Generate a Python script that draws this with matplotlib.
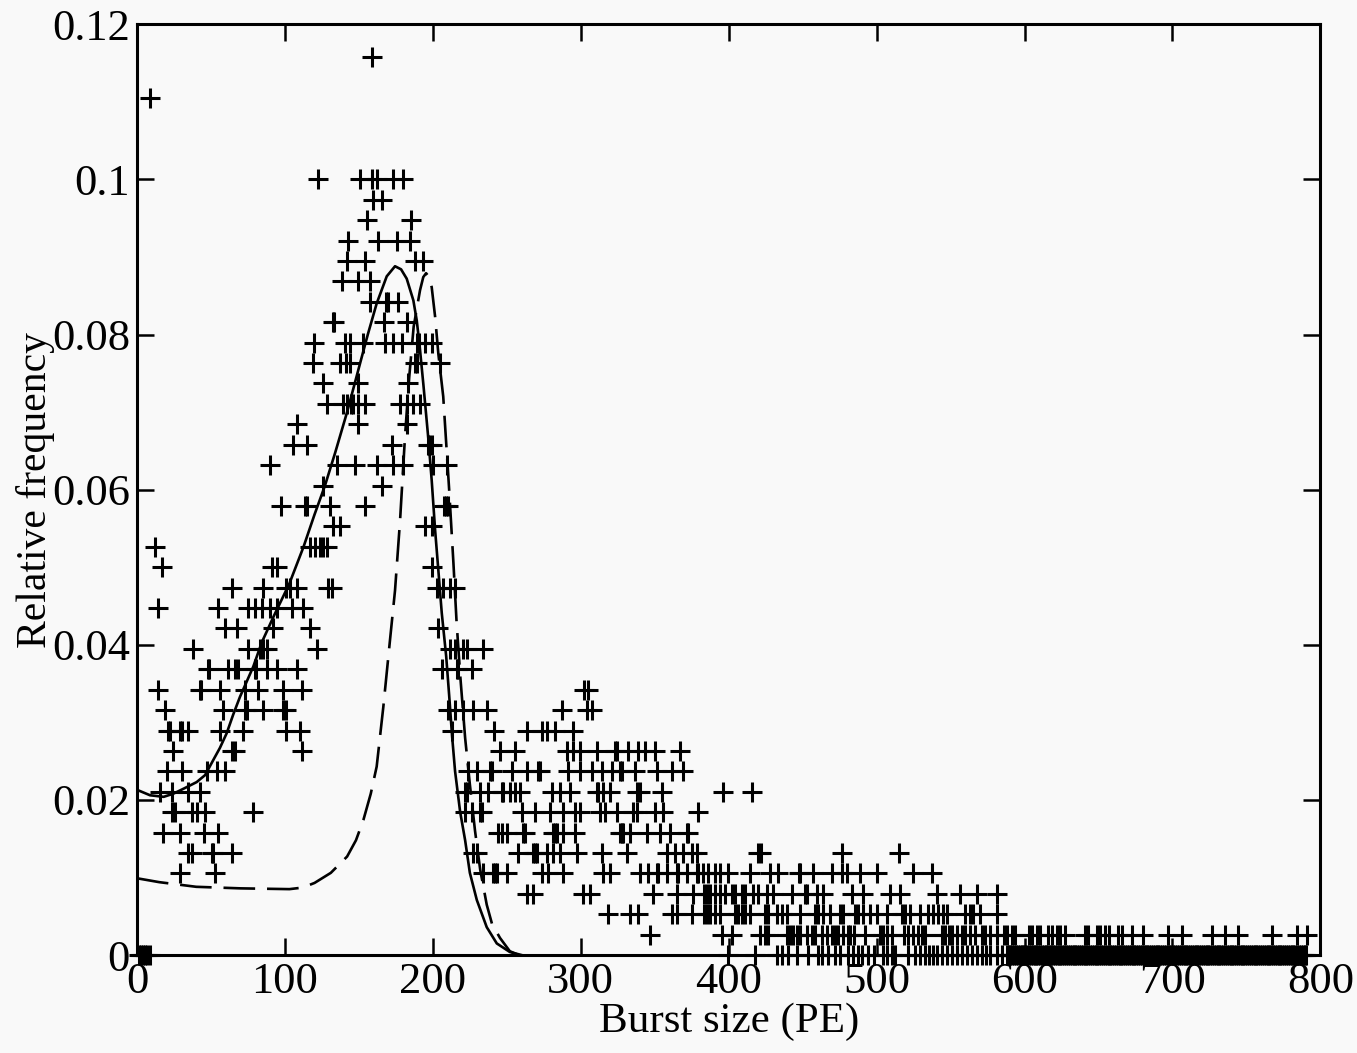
import matplotlib.pyplot as plt

# relative frequency = count / N_BURSTS
N_BURSTS = 380

# count level of each row of points, and the burst sizes (PE) in that row
count_levels = [44, 42, 38, 37, 36, 35, 34, 33, 32, 31, 30, 29, 28, 27, 26, 25, 24,
                23, 22, 21, 20, 19, 18, 17, 16, 15, 14, 13, 12, 11, 10, 9, 8, 7, 6,
                5, 4, 3, 2, 1, 0]
burst_rows = [
    [158.7],
    [8.8],
    [122, 151, 159, 162, 173, 180],
    [159.8, 165.4],
    [155.7, 185.3],
    [142.9, 163.2, 175.6, 184.6],
    [142.2, 154.2, 188, 193.6],
    [138.4, 149.6, 157.5],
    [157.5, 168.3, 169.7, 176.7],
    [132.2, 133.2, 167, 182.3],
    [119.7, 140.6, 144, 153, 167.7, 173.3, 179, 189.5, 190.8, 194.7, 199.2],
    [118.8, 137, 141.3, 144, 188, 189, 205],
    [126, 149.6, 183],
    [128.3, 139, 141.8, 144.5, 145.8, 149.6, 154.2, 177.8, 182.3, 186.8, 191.3],
    [108, 149.6, 182.3],
    [105.3, 114.7, 172.2, 196.5, 197.5, 199.2],
    [90, 135, 147.4, 162, 173.3, 180, 200.3, 209.4],
    [125.5, 165.4],
    [97.4, 113.6, 114.7, 130.5, 154.2, 207.5, 209, 210.3],
    [132.7, 137.3, 194.7, 199.2],
    [12.2, 117, 120.4, 123.7, 126, 128.3],
    [17.1, 91, 94.5, 199.2],
    [64, 85.4, 101, 103.4, 108, 129.3, 131.5, 202.6, 207, 211.6, 215],
    [14.4, 55, 75.3, 79.8, 84.3, 90, 94.5, 104.6, 112.4],
    [59.5, 67.4, 92, 117, 203.7],
    [38, 75.3, 83.2, 85.4, 87.7, 121.5, 211.6, 215, 220.6, 222.8, 234],
    [48.2, 48.8, 61.7, 66.3, 68.5, 79.8, 80.5, 87.7, 94.5, 108, 206, 216, 217.3,
     226.3],
    [14.4, 42.6, 43.2, 56, 73, 82, 99, 111.3, 302.5, 305],
    [19, 58.4, 73, 74.2, 85.4, 99, 101, 210.5, 215, 220.6, 227.4, 236.4, 287, 304,
     307.4],
    [21.2, 22, 29, 30.2, 34.7, 56, 71.9, 101, 110, 212.7, 241, 263.5, 273.6, 277,
     282.6, 295],
    [24.5, 64, 66.3, 111.3, 245.4, 255.6, 290.5, 295, 299.5, 310.8, 323.2, 324.3,
     332.2, 339, 343.5, 350.2, 367],
    [20, 30.2, 47, 53.9, 59.5, 224, 229.7, 238.7, 239.8, 253.3, 263.5, 271.3, 272.5,
     291.6, 299.5, 307.4, 314.2, 320.9, 326.6, 327.7, 336.7, 351.4, 361.5, 369.4],
    [15.5, 23.4, 34.7, 42.6, 221.8, 222.8, 232, 237.5, 246.6, 247.6, 252.2, 255.6,
     259, 280.4, 286, 292.8, 310.8, 311.8, 315.3, 319.8, 337.8, 340, 354.7, 396.4,
     416],
    [23.4, 25.7, 37, 40.3, 46, 78.6, 221.8, 226.3, 232, 233, 260, 269, 279.2, 288.2,
     296.1, 299.5, 313, 316.4, 324.3, 335.6, 337.8, 350.2, 355.8, 379.5],
    [17.8, 29, 45, 55, 244.3, 246.6, 250, 261.2, 262.4, 281.5, 282.5, 283.7, 288.2,
     296.1, 326.6, 327.6, 328.8, 333.3, 344.6, 353.6, 360.3, 371.7, 372.7],
    [34.7, 37, 50.5, 51.5, 64, 227.4, 229.7, 257.8, 268, 269, 270.3, 277, 281.5, 286,
     297.3, 314.2, 331, 358, 363.8, 369.4, 375, 378.4, 420, 421.5, 476.4, 515.4],
    [29, 52.7, 234, 240.8, 241.8, 243.2, 250, 273.6, 278, 288.2, 315.3, 319.8, 340,
     345.7, 351.4, 352.5, 358, 364.9, 366, 371.7, 378.4, 379.5, 382.7, 386.3, 390.8,
     394.2, 399.5, 414.5, 428, 433.6, 447.2, 448.3, 457.2, 469.7, 476.4, 479.8,
     488.8, 500, 524.9, 537.3],
    [263.5, 268, 301.7, 306.3, 349, 364.9, 376.1, 383, 385.2, 387.4, 390.8, 394.2,
     397.6, 402, 404.3, 408.8, 411, 416.7, 420, 425.7, 430.2, 442.6, 451.7, 452.8,
     459.5, 464, 483.2, 491, 509.1, 515.9, 540.7, 556.4, 567.7, 581.2],
    [318.6, 333.3, 339, 361.5, 364.9, 375, 383, 385.5, 387.4, 390.8, 394.2, 404.3,
     406.6, 408.8, 411.1, 414.5, 424.6, 426.9, 432.5, 435.9, 439.3, 448.3, 458.4,
     460.7, 464, 468.6, 475.3, 477.6, 485.5, 487.7, 491.1, 495.6, 500.1, 506.9, 517,
     519.3, 522.6, 529.4, 535, 538.4, 541.8, 545.2, 547.4, 559.8, 563.2, 565.4,
     569.9, 581.2],
    [346.8, 395.3, 402, 421.2, 424.6, 426.9, 439.3, 441.5, 443.8, 446, 448.3, 452.8,
     456.2, 458.4, 463, 466.3, 469.7, 471.9, 474.2, 477.6, 480.9, 482.1, 484.4,
     492.2, 502.4, 504.6, 506.9, 510.3, 518.2, 521.5, 524.9, 528.3, 530.6, 532.8,
     544.1, 546.3, 548.6, 550.8, 554.2, 557.6, 559.9, 563.2, 566.6, 571.1, 573.4,
     576.8, 581.3, 585.8, 588, 591.4, 593.6, 602.7, 604.9, 608.3, 610.5, 616.2,
     618.4, 621.8, 624.1, 627.5, 641, 643.2, 648.9, 651.1, 654.5, 656.8, 663.5,
     665.8, 672.5, 680.4, 697.3, 706.3, 726.6, 735.6, 744.6, 767.2, 784.1, 790.8],
    [1, 2.5, 4, 5.5, 7, 8.5, 399.8, 417.8, 432.5, 435.9, 440.4, 446, 453.9, 460.7,
     463, 467.4, 471.9, 475.3, 480.9, 484.3, 487.7, 490, 494.5, 497.9, 504.6, 507.3,
     510.3, 512.5, 521.5, 526, 529.4, 532.8, 535.5, 538.4, 540.7, 544.1, 547.5,
     550.8, 554.2, 557.6, 561, 564.4, 567.7, 571.1, 574, 576.8, 581.3, 584.6, 588,
     590.5, 593, 595.8, 598, 600.5, 603.2, 605.5, 608, 610.7, 613, 615.5, 618.2,
     620.5, 623, 625.6, 628, 630.5, 633.2, 635.5, 638, 640.6, 643, 645.5, 648.2,
     650.5, 653, 655.7, 658, 660.5, 663.1, 665.5, 668, 670.6, 673, 675.5, 678.2,
     680.5, 683, 685.6, 688, 690.5, 693.1, 695.5, 698, 700.6, 703, 705.5, 708.2,
     710.5, 713, 715.6, 718, 720.5, 723.1, 725.5, 728, 730.6, 733, 735.5, 738.2,
     740.5, 743, 745.6, 748, 750.5, 753.1, 755.5, 758, 760.6, 763, 765.5, 768.2,
     770.5, 773, 775.6, 778, 780.5, 783.1, 785.5, 788, 790.5,
     # the solid black band past 590 PE holds more points than can be told apart
     589.3, 591.8, 594.4, 596.9, 599.3, 601.8, 604.4, 606.8, 609.3, 611.8, 614.3,
     616.9, 619.3, 621.8, 624.3, 626.8, 629.3, 631.8, 634.4, 636.8, 639.3, 641.8,
     644.3, 646.9, 649.3, 651.8, 654.3, 656.9, 659.3, 661.8, 664.3, 666.8, 669.3,
     671.8, 674.3, 676.9, 679.3, 681.8, 684.3, 686.8, 689.3, 691.8, 694.3, 696.8,
     699.3, 701.8, 704.3, 706.9, 709.3, 711.8, 714.3, 716.8, 719.3, 721.8, 724.3,
     726.8, 729.3, 731.8, 734.3, 736.9, 739.3, 741.8, 744.3, 746.8, 749.3, 751.8,
     754.3, 756.8, 759.3, 761.8, 764.3, 766.9, 769.3, 771.8, 774.3, 776.8, 779.3,
     781.8, 784.3, 786.8, 789.3],
]

# fitted curves
solid_x = [0, 8.8, 18, 24.5, 32, 40.3, 46, 51.4, 56, 60.6, 65, 69.6, 74, 78.6, 84.3,
           92.2, 103, 112.5, 120, 127, 134, 142, 150.8, 156, 162, 168.8, 174.4, 178.5,
           182.3, 186.8, 189.1, 191, 193.6, 197, 199.2, 201.5, 203.7, 206, 209, 211,
           213, 215, 218.4, 221.8, 225, 229.7, 236.4, 243.2, 252, 260]
solid_y = [0.0213, 0.0206, 0.0204, 0.0208, 0.0215, 0.0223, 0.0232, 0.0251, 0.0267,
           0.0286, 0.031, 0.0333, 0.0352, 0.0372, 0.0403, 0.0436, 0.0479, 0.0526,
           0.0568, 0.0605, 0.0648, 0.070, 0.0763, 0.0800, 0.0840, 0.0875, 0.0888,
           0.0884, 0.0872, 0.0844, 0.0818, 0.0786, 0.0735, 0.0664, 0.0612, 0.0548,
           0.0496, 0.0441, 0.0385, 0.0335, 0.0282, 0.0237, 0.0185, 0.0148, 0.0106,
           0.0071, 0.0036, 0.0015, 0.0004, 0.0]

dashed_x = [0, 15, 40, 70, 103, 112, 120, 131, 142, 148, 153, 158, 162, 166.5, 171,
            174.4, 177.8, 181.2, 184, 187, 191.3, 193.5, 195.4, 197.5, 199.2, 201.5,
            203.7, 207, 209, 211, 213.9, 216, 218.5, 221.8, 225, 228.5, 232, 236.4,
            240, 245.4, 252, 258]
dashed_y = [0.0099, 0.0094, 0.0088, 0.0086, 0.0085, 0.0087, 0.0093, 0.0106, 0.0127,
            0.0148, 0.0174, 0.0208, 0.0243, 0.032, 0.0406, 0.047, 0.056, 0.067,
            0.0745, 0.081, 0.0857, 0.0874, 0.0879, 0.0874, 0.0861, 0.0823, 0.0775,
            0.072, 0.066, 0.060, 0.0505, 0.043, 0.036, 0.028, 0.022, 0.016, 0.011,
            0.0065, 0.004, 0.0022, 0.0005, 0.0]


def main():
	plt.rcParams['font.family'] = ['Liberation Serif', 'DejaVu Serif']

	fig = plt.figure(figsize=(13.57, 10.53), dpi=100, facecolor='#f9f9f9')
	ax = fig.add_axes([0.101, 0.093, 0.872, 0.884])
	ax.set_facecolor('#f9f9f9')

	xs = []
	ys = []
	for k, row in zip(count_levels, burst_rows):
		for x in row:
			xs.append(x)
			ys.append(k / N_BURSTS)

	ax.plot(xs, ys, '+', color='black', ms=14, mew=2.2, clip_on=False, zorder=3)
	ax.plot(solid_x, solid_y, '-', color='black', lw=1.9, zorder=2)
	ax.plot(dashed_x, dashed_y, '--', color='black', lw=1.9, dashes=(12, 4.5), zorder=2)

	ax.set_xlim(0, 800)
	ax.set_ylim(0, 0.12)
	ax.set_xticks(range(0, 801, 100))
	ax.set_yticks([0, 0.02, 0.04, 0.06, 0.08, 0.1, 0.12])
	ax.set_yticklabels(['0', '0.02', '0.04', '0.06', '0.08', '0.1', '0.12'])
	ax.tick_params(direction='in', top=True, right=True, length=12, width=1.8,
	               labelsize=32, pad=5)
	for s in ax.spines.values():
		s.set_linewidth(2.2)

	ax.set_xlabel('Burst size (PE)', fontsize=31, labelpad=0)
	ax.set_ylabel('Relative frequency', fontsize=30, labelpad=-2)

	fig.savefig('out.png', dpi=100, facecolor=fig.get_facecolor())


if __name__ == '__main__':
	main()
